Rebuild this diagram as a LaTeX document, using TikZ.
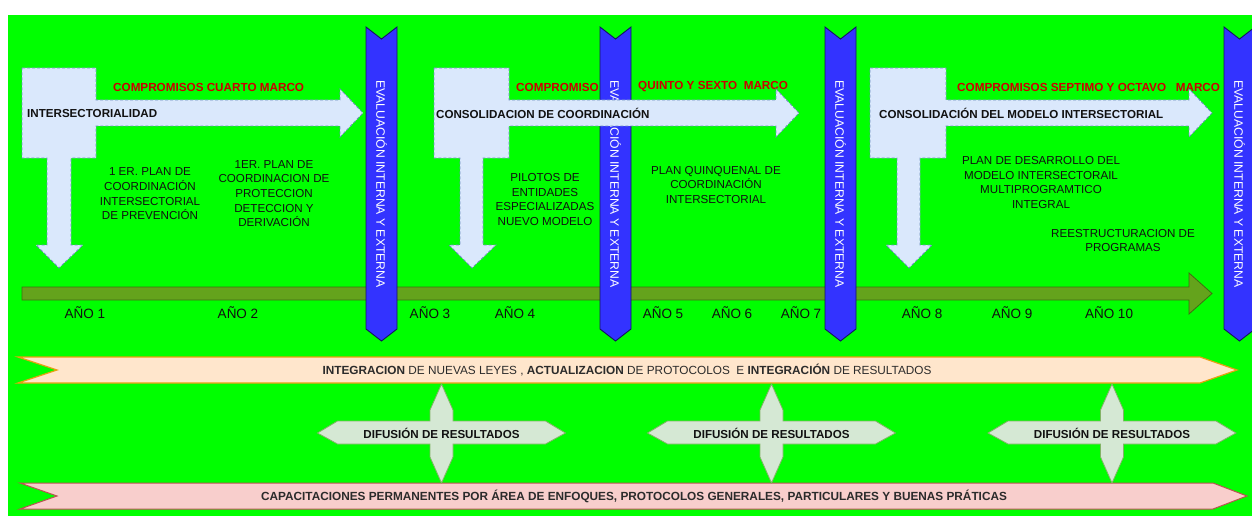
\documentclass[tikz,border=0pt]{standalone}
\usepackage{fontspec}
\setmainfont{Liberation Sans}
\definecolor{bgGreen}{HTML}{00FF00}
\definecolor{evalC}{HTML}{3333FF}
\definecolor{evalLine}{HTML}{15155C}
\definecolor{lbFill}{HTML}{DAE8FC}
\definecolor{lbLine}{HTML}{6C8EBF}
\definecolor{timeC}{HTML}{64A31C}
\definecolor{timeLine}{HTML}{3F6E12}
\definecolor{redC}{HTML}{CC0000}
\definecolor{peachFill}{HTML}{FFE6CC}
\definecolor{peachLine}{HTML}{E8A010}
\definecolor{pinkFill}{HTML}{F8CECC}
\definecolor{pinkLine}{HTML}{B85450}
\definecolor{difFill}{HTML}{D5E8D4}
\definecolor{difLine}{HTML}{82B366}
\definecolor{ink}{HTML}{111111}
\definecolor{ribInk}{HTML}{2B2B2B}
\tikzset{
  band/.style={fill=evalC,draw=evalLine,line width=0.9pt},
  bandtxt/.style={rotate=-90,text=white,font=\fontsize{12.2}{14}\selectfont,inner sep=0pt},
  lblue/.style={fill=lbFill,draw=lbLine,line width=0.8pt,dash pattern=on 3pt off 2pt},
  timeln/.style={fill=timeC,draw=timeLine,line width=0.8pt},
  hdr/.style={font=\fontsize{11.6}{14}\selectfont\bfseries,text=ink,anchor=west,inner sep=0pt},
  redhdr/.style={font=\fontsize{11.7}{14}\selectfont\bfseries,text=redC,anchor=west,inner sep=0pt},
  plan/.style={font=\fontsize{11.6}{14.7}\selectfont,text=ink,align=center,inner sep=0pt},
  yearlab/.style={font=\fontsize{13.5}{15}\selectfont,text=ink,inner sep=0pt},
  peach/.style={fill=peachFill,draw=peachLine,line width=1.2pt},
  pink/.style={fill=pinkFill,draw=pinkLine,line width=1pt},
  ribtxt/.style={font=\fontsize{11.8}{14}\selectfont,text=ribInk,inner sep=0pt},
  difc/.style={fill=difFill,draw=difLine,line width=0.8pt},
  diftxt/.style={font=\fontsize{11.6}{14}\selectfont\bfseries,text=ink,inner sep=0pt},
  evalband/.pic={
    \draw[band] (-15.5,27) -- (0,39) -- (15.5,27) -- (15.5,329) -- (0,341) -- (-15.5,329) -- cycle;
    \node[bandtxt] (-txt) at (0,184) {EVALUACIÓN INTERNA Y EXTERNA};},
  difcross/.pic={
    \draw[difc] (0,-49) -- (11.5,-23) -- (11.5,-12) -- (104,-12) -- (124,0) -- (104,11) -- (11.5,11) -- (11.5,24)
      -- (0,50) -- (-11.5,24) -- (-11.5,11) -- (-104,11) -- (-124,0) -- (-104,-12) -- (-11.5,-12) -- (-11.5,-23) -- cycle;
    \node[diftxt] (-txt) at (0,0) {DIFUSIÓN DE RESULTADOS};}}

\begin{document}
\begin{tikzpicture}[x=1pt,y=-1pt]
\useasboundingbox (0,0) rectangle (1252,516);
\clip (0,0) rectangle (1252,516);
\fill[bgGreen] (8,15) rectangle (1252,516);
\node[redhdr] (red1) at (113,87) {COMPROMISOS CUARTO MARCO};
\node[redhdr] (red2a) at (516,87) {COMPROMISO};
\node[redhdr] (red2b) at (638,87) {QUINTO Y SEXTO\ \ MARCO};
\node[redhdr] (red3) at (957,87) {COMPROMISOS SEPTIMO Y OCTAVO\ \ \ MARCO};
\draw[timeln] (22,287) -- (1189,287) -- (1189,273) -- (1212,293.5) -- (1189,314) -- (1189,300) -- (22,300) -- cycle;
\pic (ev1) at (381.5,0) {evalband};
\pic (ev2) at (615.5,0) {evalband};
\pic (ev3) at (840.5,0) {evalband};
\pic (ev4) at (1239.5,0) {evalband};
\draw[lblue] (22,68) -- (96,68) -- (96,100) -- (340,100) -- (340,89) -- (363,113) -- (340,137) -- (340,126) -- (96,126) -- (96,158)
  -- (71,158) -- (71,245) -- (83,245) -- (59,268) -- (36,245) -- (47,245) -- (47,158) -- (22,158) -- cycle;
\draw[lblue] (434,68) -- (509,68) -- (509,100) -- (776,100) -- (776,89) -- (799,113) -- (776,137) -- (776,126) -- (509,126) -- (509,158)
  -- (483,158) -- (483,245) -- (496,245) -- (472,268) -- (449,245) -- (460,245) -- (460,158) -- (434,158) -- cycle;
\draw[lblue] (870,68) -- (946,68) -- (946,100) -- (1189,100) -- (1189,89) -- (1212,113) -- (1189,137) -- (1189,126) -- (946,126) -- (946,158)
  -- (920,158) -- (920,245) -- (932,245) -- (909,268) -- (886,245) -- (897,245) -- (897,158) -- (870,158) -- cycle;
\node[hdr] (hdr1) at (27,114) {INTERSECTORIALIDAD};
\node[hdr] (hdr2) at (436,113) {CONSOLIDACION DE COORDINACIÓN};
\node[hdr] (hdr3) at (879,113) {CONSOLIDACIÓN DEL MODELO INTERSECTORIAL};
\node[plan] (planA) at (150,194) {1 ER. PLAN DE\\COORDINACIÓN\\INTERSECTORIAL\\DE PREVENCIÓN};
\node[plan] (planB) at (274,193.5) {1ER. PLAN DE\\COORDINACION DE\\PROTECCION\\DETECCION Y\\DERIVACIÓN};
\node[plan] (planC) at (545,199.5) {PILOTOS DE\\ENTIDADES\\ESPECIALIZADAS\\NUEVO MODELO};
\node[plan] (planD) at (716,185) {PLAN QUINQUENAL DE\\COORDINACIÓN\\INTERSECTORIAL};
\node[plan] (planE) at (1041,182.5) {PLAN DE DESARROLLO DEL\\MODELO INTERSECTORAIL\\MULTIPROGRAMTICO\\INTEGRAL};
\node[plan] (planF) at (1123,240.5) {REESTRUCTURACION DE\\PROGRAMAS};
\node[yearlab] (y1) at (85,313) {AÑO 1};\node[yearlab] (y2) at (238,313) {AÑO 2};
\node[yearlab] (y3) at (430,313) {AÑO 3};\node[yearlab] (y4) at (515,313) {AÑO 4};
\node[yearlab] (y5) at (663,313) {AÑO 5};\node[yearlab] (y6) at (732,313) {AÑO 6};
\node[yearlab] (y7) at (801,313) {AÑO 7};\node[yearlab] (y8) at (922,313) {AÑO 8};
\node[yearlab] (y9) at (1012,313) {AÑO 9};\node[yearlab] (y10) at (1109,313) {AÑO 10};
\draw[peach] (18,357) -- (1200,357) -- (1237,370) -- (1200,383) -- (18,383) -- (57,370) -- cycle;
\node[ribtxt] (integ) at (627,370) {\textbf{INTEGRACION} DE NUEVAS LEYES , \textbf{ACTUALIZACION} DE PROTOCOLOS\ \ E \textbf{INTEGRACIÓN} DE RESULTADOS};
\draw[pink] (20,483) -- (1213,483) -- (1247,496) -- (1213,509) -- (20,509) -- (57,496) -- cycle;
\node[ribtxt,font=\fontsize{11.8}{14}\selectfont\bfseries] (capac) at (634,496) {CAPACITACIONES PERMANENTES POR ÁREA DE ENFOQUES, PROTOCOLOS GENERALES, PARTICULARES Y BUENAS PRÁTICAS};
\pic (dif1) at (441.5,433) {difcross};
\pic (dif2) at (771.5,433) {difcross};
\pic (dif3) at (1112,433) {difcross};
\end{tikzpicture}
\end{document}
